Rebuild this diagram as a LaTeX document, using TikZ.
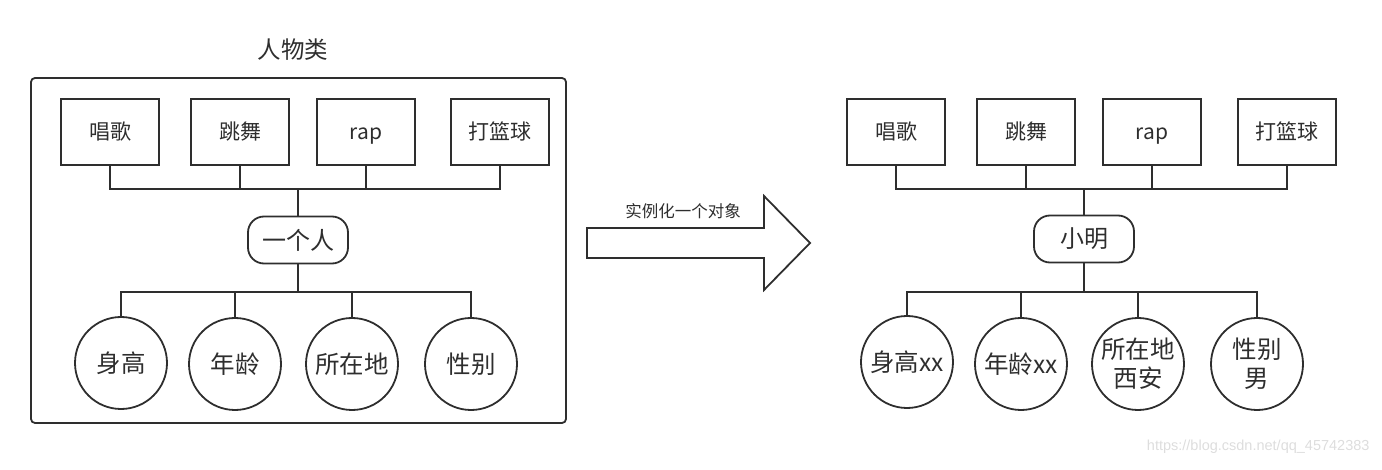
\documentclass[tikz,border=0pt]{standalone}
\usepackage{fontspec}
\setmainfont{Noto Sans CJK SC}
\newfontfamily\markfont{Liberation Sans}
\usetikzlibrary{positioning}
\definecolor{inkgray}{HTML}{2E2E2E}
\definecolor{markgray}{HTML}{DDDDDD}

\begin{document}
\begin{tikzpicture}[x=1pt, y=-1pt, color=inkgray,
    attr/.style={draw, rectangle, minimum width=98pt, minimum height=66pt, text height=19pt, text depth=3pt, font=\fontsize{21}{25}\selectfont},
    obj/.style={draw, rectangle, rounded corners=16pt, minimum width=100pt, minimum height=47pt, font=\fontsize{24}{28}\selectfont},
    prop/.style={draw, circle, minimum size=92pt, inner sep=0pt, align=center, font=\fontsize{24.5}{29}\selectfont},
    label/.style={draw=none, fill=none, align=center}
  ]
  \def\edgewidth{1.8}
  \useasboundingbox (0,0) rectangle (1382,470);

  % class on the left
  \node[label, font=\fontsize{23.5}{27}\selectfont] (title) at (293,50) {人物类};
  \node[draw, rounded corners=4pt, minimum width=535pt, minimum height=345pt, line width=\edgewidth] (cls) at (298.5,250.5) {};
  \node[attr, line width=\edgewidth] (lsing) at (110,132) {唱歌};
  \node[attr, line width=\edgewidth] (ldance) at (240,132) {跳舞};
  \node[attr, line width=\edgewidth] (lrap) at (366,132) {rap};
  \node[attr, line width=\edgewidth] (lball) at (500,132) {打篮球};
  \node[obj, line width=\edgewidth] (lperson) at (298,240) {一个人};
  \node[prop, line width=\edgewidth] (lheight) at (121,363) {身高};
  \node[prop, line width=\edgewidth] (lage) at (235,364) {年龄};
  \node[prop, line width=\edgewidth] (lplace) at (352,364) {所在地};
  \node[prop, line width=\edgewidth] (lsex) at (471,364) {性别};
  \coordinate (ltop) at (298,189);
  \coordinate (lbot) at (298,292);

  % instance on the right
  \node[attr, line width=\edgewidth] (rsing) at (896,132) {唱歌};
  \node[attr, line width=\edgewidth] (rdance) at (1026,132) {跳舞};
  \node[attr, line width=\edgewidth] (rrap) at (1152,132) {rap};
  \node[attr, line width=\edgewidth] (rball) at (1287,132) {打篮球};
  \node[obj, line width=\edgewidth] (rming) at (1084,239) {小明};
  \node[prop, line width=\edgewidth] (rheight) at (907,362) {身高xx};
  \node[prop, line width=\edgewidth] (rage) at (1021,364) {年龄xx};
  \node[prop, line width=\edgewidth] (rplace) at (1138,364) {所在地\\西安};
  \node[prop, line width=\edgewidth] (rsex) at (1257,364) {性别\\男};
  \coordinate (rtop) at (1084,189);
  \coordinate (rbot) at (1084,292);

  % block arrow
  \coordinate (tail) at (587,243);
  \draw[line width=\edgewidth] (tail) ++(0,-15) -- ++(177,0) -- ++(0,-32) -- ++(46,47) -- ++(-46,47) -- ++(0,-32) -- ++(-177,0) -- cycle;
  \node[label, font=\fontsize{16.5}{20}\selectfont] (inst) at (683,211) {实例化一个对象};

  \draw[line width=\edgewidth] (lsing.south) |- (ltop) -- (lperson.north);
  \draw[line width=\edgewidth] (ldance.south) |- (ltop);
  \draw[line width=\edgewidth] (lrap.south) |- (ltop);
  \draw[line width=\edgewidth] (lball.south) |- (ltop);
  \draw[line width=\edgewidth] (lperson.south) -- (lbot) -| (lheight.north);
  \draw[line width=\edgewidth] (lbot) -| (lage.north);
  \draw[line width=\edgewidth] (lbot) -| (lplace.north);
  \draw[line width=\edgewidth] (lbot) -| (lsex.north);

  \draw[line width=\edgewidth] (rsing.south) |- (rtop) -- (rming.north);
  \draw[line width=\edgewidth] (rdance.south) |- (rtop);
  \draw[line width=\edgewidth] (rrap.south) |- (rtop);
  \draw[line width=\edgewidth] (rball.south) |- (rtop);
  \draw[line width=\edgewidth] (rming.south) -- (rbot) -| (rheight.north);
  \draw[line width=\edgewidth] (rbot) -| (rage.north);
  \draw[line width=\edgewidth] (rbot) -| (rplace.north);
  \draw[line width=\edgewidth] (rbot) -| (rsex.north);

  \node[label, anchor=east, text=markgray, font=\markfont\fontsize{14.5}{17}\selectfont] (mark) at (1373,447) {https://blog.csdn.net/qq\_45742383};
\end{tikzpicture}
\end{document}
